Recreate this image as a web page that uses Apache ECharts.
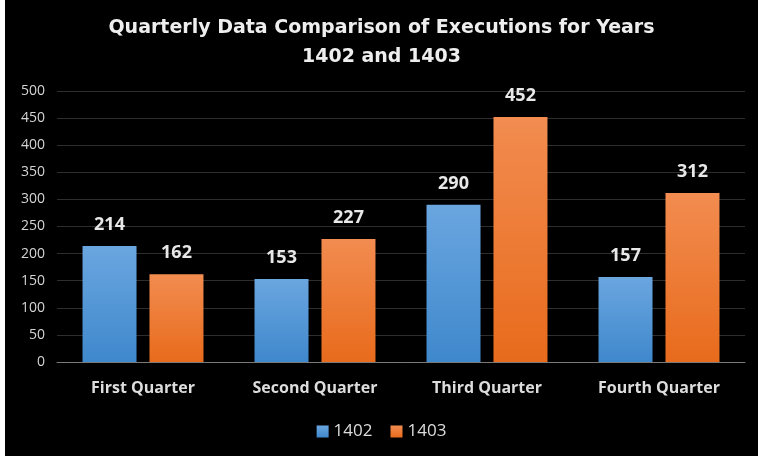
<!DOCTYPE html>
<html>
<head>
    <meta charset="UTF-8">
    <title>Quarterly Data Comparison</title>
    <script src="https://cdn.jsdelivr.net/npm/echarts@6/dist/echarts.min.js"></script>
    <style>
        html, body { margin: 0; padding: 0; background: #fff; }
        #main { position: absolute; left: 5px; top: 0; width: 753px; height: 456px; background: #000; }
    </style>
</head>
<body>
    <div id="main"></div>
    <script type="text/javascript">
        // data
        var quarters = ['First Quarter', 'Second Quarter', 'Third Quarter', 'Fourth Quarter'];
        var years = ['1402', '1403'];
        var values1402 = [214, 153, 290, 157];
        var values1403 = [162, 227, 452, 312];

        var fontFam = '"Open Sans", "Noto Sans", sans-serif';

        function grad(top, bottom) {
            return new echarts.graphic.LinearGradient(0, 0, 0, 1, [
                { offset: 0, color: top },
                { offset: 1, color: bottom }
            ]);
        }

        var myChart = echarts.init(document.getElementById('main'));
        var option = {
            backgroundColor: '#000',
            animation: false,
            color: ['#5b9bd5', '#ed7d31'],
            title: {
                text: 'Quarterly Data Comparison of Executions for Years\n1402 and 1403',
                left: 'center',
                top: 9,
                textStyle: {
                    color: '#eeeeee',
                    fontFamily: '"DejaVu Sans", sans-serif',
                    fontWeight: 'bold',
                    fontSize: 19,
                    lineHeight: 29
                }
            },
            legend: {
                data: years,
                bottom: 11,
                left: 'center',
                itemWidth: 12,
                itemHeight: 12,
                itemGap: 18,
                icon: 'rect',
                textStyle: { color: '#dddddd', fontSize: 17, fontFamily: fontFam }
            },
            grid: { left: 52, right: 13, top: 91, bottom: 94 },
            xAxis: {
                type: 'category',
                data: quarters,
                axisLine: { lineStyle: { color: '#7a7a7a', width: 1 } },
                axisTick: { show: false },
                axisLabel: {
                    interval: 0,
                    color: '#dddddd',
                    fontFamily: fontFam,
                    fontWeight: 'bold',
                    fontSize: 16,
                    margin: 18
                }
            },
            yAxis: {
                type: 'value',
                min: 0,
                max: 500,
                interval: 50,
                axisLine: { show: false },
                axisTick: { show: false },
                splitLine: { lineStyle: { color: '#2e2e2e', width: 1 } },
                axisLabel: { color: '#d4d4d4', fontFamily: fontFam, fontSize: 14, margin: 12 }
            },
            series: [
                {
                    name: years[0],
                    type: 'bar',
                    data: values1402,
                    barWidth: 54,
                    barGap: '24%',
                    itemStyle: { color: grad('#6aa6e0', '#3f88cc') },
                    label: {
                        show: true,
                        position: 'top',
                        distance: 12,
                        color: '#e8e8e8',
                        fontFamily: fontFam,
                        fontWeight: 'bold',
                        fontSize: 18
                    }
                },
                {
                    name: years[1],
                    type: 'bar',
                    data: values1403,
                    barWidth: 54,
                    itemStyle: { color: grad('#f28c50', '#e86b1c') },
                    label: {
                        show: true,
                        position: 'top',
                        distance: 12,
                        color: '#e8e8e8',
                        fontFamily: fontFam,
                        fontWeight: 'bold',
                        fontSize: 18
                    }
                }
            ]
        };
        myChart.setOption(option);
    </script>
</body>
</html>
